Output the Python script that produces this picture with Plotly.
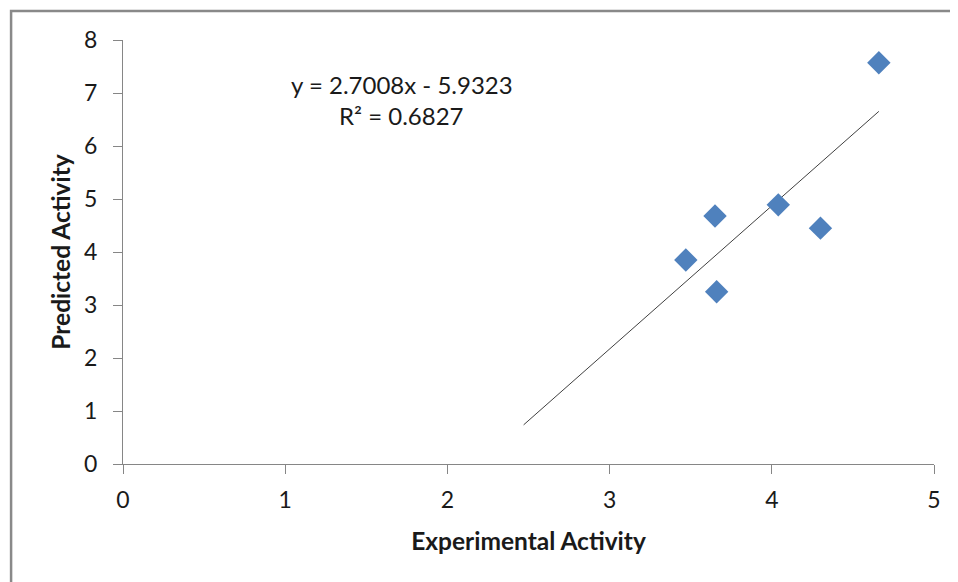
import plotly.graph_objects as go

# Data
experimental = [4.66, 3.65, 4.04, 3.47, 3.66, 4.30]
predicted = [7.57, 4.68, 4.89, 3.85, 3.25, 4.45]

slope = 2.7008
intercept = -5.9323
r2 = 0.6827
backcast = 1.0

x_ticks = [0, 1, 2, 3, 4, 5]
y_ticks = [0, 1, 2, 3, 4, 5, 6, 7, 8]

tx = [min(experimental) - backcast, max(experimental)]
ty = [slope * v + intercept for v in tx]

FONT = "Lato, Open Sans, sans-serif"
AXC = "#868686"

fig = go.Figure()
fig.add_trace(go.Scatter(x=tx, y=ty, mode="lines",
                         line=dict(color="#404040", width=1), hoverinfo="skip", showlegend=False))
fig.add_trace(go.Scatter(x=experimental, y=predicted, mode="markers",
                         marker=dict(symbol="diamond", size=18, color="#4F81BD",
                                     line=dict(width=0)), showlegend=False))

fig.update_layout(
    width=958, height=582,
    margin=dict(l=115, r=32, t=32, b=126, autoexpand=False),
    paper_bgcolor="white", plot_bgcolor="white",
    font=dict(family=FONT, color="#1a1a1a", size=24),
    xaxis=dict(range=[0, 5], tickvals=x_ticks, showgrid=False, zeroline=False,
               showline=True, linecolor=AXC, linewidth=1.3, ticks="outside",
               ticklen=9, tickcolor=AXC, tickwidth=1.3, ticklabelstandoff=6,
               tickfont=dict(size=23, family=FONT),
               title=dict(text="<b>Experimental Activity</b>", font=dict(size=24.5, family=FONT),
                          standoff=21)),
    yaxis=dict(range=[0, 8], tickvals=y_ticks, showgrid=False, zeroline=False,
               showline=True, linecolor=AXC, linewidth=1.3, ticks="outside",
               ticklen=9, tickcolor=AXC, tickwidth=1.3, ticklabelstandoff=11,
               tickfont=dict(size=23, family=FONT),
               title=dict(text="<b>Predicted Activity</b>", font=dict(size=24.5, family=FONT),
                          standoff=6)),
    annotations=[
        dict(text="y = %.4fx - %.4f" % (slope, -intercept), xref="paper", yref="paper",
             x=0.344, y=0.896, showarrow=False, xanchor="center", yanchor="middle",
             font=dict(size=24, family=FONT)),
        dict(text="R² = %.4f" % r2, xref="paper", yref="paper",
             x=0.344, y=0.823, showarrow=False, xanchor="center", yanchor="middle",
             font=dict(size=24, family=FONT)),
    ],
    shapes=[dict(type="rect", xref="paper", yref="paper", x0=-0.138, x1=1.06,
                 y0=-0.4, y1=1.0684, line=dict(color="#898989", width=2.5),
                 fillcolor="rgba(0,0,0,0)", layer="below")],
)

fig.write_html("out.html")
